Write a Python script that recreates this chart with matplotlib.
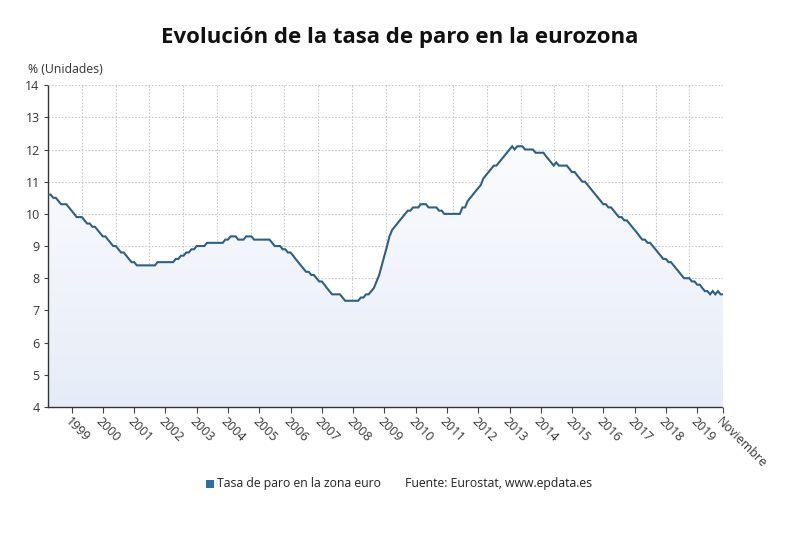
import numpy as np
import pandas as pd
import matplotlib
matplotlib.use("Agg")
import matplotlib.pyplot as plt
import matplotlib.dates as mdates
from matplotlib.colors import LinearSegmentedColormap
from matplotlib.patches import Rectangle

plt.rcParams['font.family'] = ['Open Sans', 'DejaVu Sans']

# Monthly data, April 1998 - November 2019
start_month = "1998-04-01"
values_1998 = [10.6, 10.6, 10.5, 10.5, 10.4, 10.3, 10.3, 10.3, 10.2]
values_1999 = [10.1, 10.0, 9.9, 9.9, 9.9, 9.8, 9.7, 9.7, 9.6, 9.6, 9.5, 9.4]
values_2000 = [9.3, 9.3, 9.2, 9.1, 9.0, 9.0, 8.9, 8.8, 8.8, 8.7, 8.6, 8.5]
values_2001 = [8.5, 8.4, 8.4, 8.4, 8.4, 8.4, 8.4, 8.4, 8.4, 8.5, 8.5, 8.5]
values_2002 = [8.5, 8.5, 8.5, 8.5, 8.6, 8.6, 8.7, 8.7, 8.8, 8.8, 8.9, 8.9]
values_2003 = [9.0, 9.0, 9.0, 9.0, 9.1, 9.1, 9.1, 9.1, 9.1, 9.1, 9.1, 9.2]
values_2004 = [9.2, 9.3, 9.3, 9.3, 9.2, 9.2, 9.2, 9.3, 9.3, 9.3, 9.2, 9.2]
values_2005 = [9.2, 9.2, 9.2, 9.2, 9.2, 9.1, 9.0, 9.0, 9.0, 8.9, 8.9, 8.8]
values_2006 = [8.8, 8.7, 8.6, 8.5, 8.4, 8.3, 8.2, 8.2, 8.1, 8.1, 8.0, 7.9]
values_2007 = [7.9, 7.8, 7.7, 7.6, 7.5, 7.5, 7.5, 7.5, 7.4, 7.3, 7.3, 7.3]
values_2008 = [7.3, 7.3, 7.3, 7.4, 7.4, 7.5, 7.5, 7.6, 7.7, 7.9, 8.1, 8.4]
values_2009 = [8.7, 9.0, 9.3, 9.5, 9.6, 9.7, 9.8, 9.9, 10.0, 10.1, 10.1, 10.2]
values_2010 = [10.2, 10.2, 10.3, 10.3, 10.3, 10.2, 10.2, 10.2, 10.2, 10.1, 10.1, 10.0]
values_2011 = [10.0, 10.0, 10.0, 10.0, 10.0, 10.0, 10.2, 10.2, 10.4, 10.5, 10.6, 10.7]
values_2012 = [10.8, 10.9, 11.1, 11.2, 11.3, 11.4, 11.5, 11.5, 11.6, 11.7, 11.8, 11.9]
values_2013 = [12.0, 12.1, 12.0, 12.1, 12.1, 12.1, 12.0, 12.0, 12.0, 12.0, 11.9, 11.9]
values_2014 = [11.9, 11.9, 11.8, 11.7, 11.6, 11.5, 11.6, 11.5, 11.5, 11.5, 11.5, 11.4]
values_2015 = [11.3, 11.3, 11.2, 11.1, 11.0, 11.0, 10.9, 10.8, 10.7, 10.6, 10.5, 10.4]
values_2016 = [10.3, 10.3, 10.2, 10.2, 10.1, 10.0, 9.9, 9.9, 9.8, 9.8, 9.7, 9.6]
values_2017 = [9.5, 9.4, 9.3, 9.2, 9.2, 9.1, 9.1, 9.0, 8.9, 8.8, 8.7, 8.6]
values_2018 = [8.6, 8.5, 8.5, 8.4, 8.3, 8.2, 8.1, 8.0, 8.0, 8.0, 7.9, 7.9]
values_2019 = [7.8, 7.8, 7.7, 7.6, 7.6, 7.5, 7.6, 7.5, 7.6, 7.5, 7.5]

tick_years = list(range(1999, 2020))
last_label = "Noviembre"
title = "Evolución de la tasa de paro en la eurozona"
y_label = "% (Unidades)"
series_name = "Tasa de paro en la zona euro"
source = "Fuente: Eurostat, www.epdata.es"

values = (values_1998 + values_1999 + values_2000 + values_2001 + values_2002 +
          values_2003 + values_2004 + values_2005 + values_2006 + values_2007 +
          values_2008 + values_2009 + values_2010 + values_2011 + values_2012 +
          values_2013 + values_2014 + values_2015 + values_2016 + values_2017 +
          values_2018 + values_2019)
dates = pd.date_range(start_month, periods=len(values), freq="MS")
xnum = mdates.date2num(dates)
vals = np.array(values)

fig = plt.figure(figsize=(8.0, 5.39), dpi=100)
ax = fig.add_axes([0.06, 0.245, 0.844, 0.597])

line_color = "#2d5f87"
ymin, ymax = 4, 14
x0, x1 = xnum[0], xnum[-1]

# gradient fill under the line (light near the top, bluer at the bottom)
cmap = LinearSegmentedColormap.from_list("g", ["#fbfcfe", "#e6ecf7"])
grad = np.linspace(0, 1, 256).reshape(-1, 1)
img = ax.imshow(grad, extent=[x0, x1, ymin, 12.2], aspect="auto", cmap=cmap,
                origin="upper", zorder=1)
poly = ax.fill_between(xnum, vals, ymin, color="none", zorder=1)
img.set_clip_path(poly.get_paths()[0], transform=ax.transData)

ax.plot(xnum, vals, color=line_color, lw=1.5, zorder=3, solid_joinstyle="miter")

ax.set_xlim(x0, x1)
ax.set_ylim(ymin, ymax)

# y axis
ax.set_yticks(range(4, 15))
ax.tick_params(axis="y", length=3, width=0.8, color="#444444", labelsize=9,
               labelcolor="#333333", pad=3)
ax.yaxis.grid(True, color="#c8c8c8", linestyle=(0, (1.5, 1.5)), lw=0.8, zorder=0)

# x axis: year ticks plus end label
tick_dates = [pd.Timestamp(f"{y}-01-01") for y in tick_years] + [dates[-1]]
tick_labels = [str(y) for y in tick_years] + [last_label]
ax.set_xticks(mdates.date2num(tick_dates))
ax.set_xticklabels(tick_labels, rotation=-45, ha="left", va="top",
                   rotation_mode="anchor")
ax.tick_params(axis="x", length=4, width=0.8, color="#444444", labelsize=9,
               labelcolor="#333333", pad=2)
ax.set_xticks(np.linspace(x0, x1, 21), minor=True)
ax.tick_params(axis="x", which="minor", length=0)
ax.xaxis.grid(True, which="minor", color="#c8c8c8", linestyle=(0, (1.5, 1.5)),
              lw=0.8, zorder=0)
ax.xaxis.grid(False, which="major")
ax.set_axisbelow(True)

for s in ["top", "right"]:
    ax.spines[s].set_visible(False)
for s in ["left", "bottom"]:
    ax.spines[s].set_linestyle((0, (1, 1)))
    ax.spines[s].set_color("#333333")
    ax.spines[s].set_linewidth(1.0)

fig.text(0.5, 1 - 38 / 539, title, ha="center", va="center", fontsize=16,
         fontweight="bold", color="#111111")
fig.text(0.035, 0.871, y_label, ha="left", va="center", fontsize=8.8,
         color="#333333")

# legend at bottom
fig.patches.append(Rectangle((206 / 800, 1 - 488 / 539), 8 / 800, 8 / 539,
                             transform=fig.transFigure, facecolor="#2f6ea5",
                             edgecolor="none"))
fig.text(217 / 800, 1 - 484 / 539, series_name, ha="left", va="center",
         fontsize=8.8, color="#222222")
fig.text(405 / 800, 1 - 484 / 539, source, ha="left", va="center",
         fontsize=8.8, color="#222222")

fig.savefig("out.png", dpi=100)
